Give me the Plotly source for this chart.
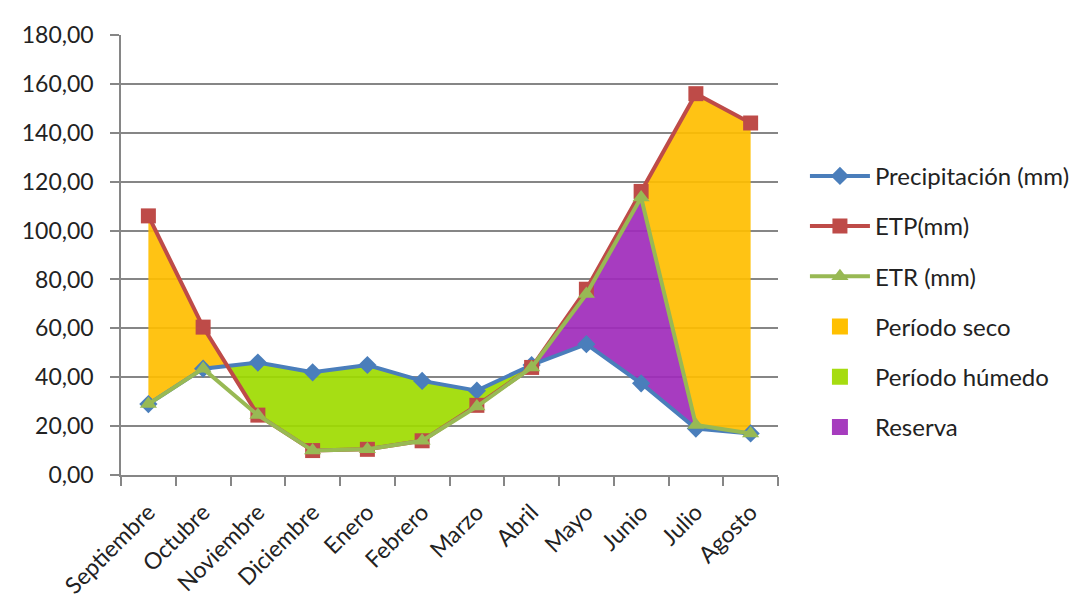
import plotly.graph_objects as go

meses = ["Septiembre", "Octubre", "Noviembre", "Diciembre", "Enero", "Febrero",
         "Marzo", "Abril", "Mayo", "Junio", "Julio", "Agosto"]
precipitacion = [29, 43.5, 46, 42, 45, 38.5, 34.5, 45, 53.5, 37.5, 19, 17]
etp = [106, 60.5, 24.5, 10, 10.5, 14, 28.5, 44, 76, 116, 156, 144]
etr = [29, 43.5, 24.5, 10, 10.5, 14, 28, 44, 74, 113.5, 20.5, 17]
y_ticks = [0, 20, 40, 60, 80, 100, 120, 140, 160, 180]

x = list(range(len(meses)))

# crossing of ETP and precipitation between Octubre (1) and Noviembre (2)
d1 = etp[1] - precipitacion[1]
d2 = etp[2] - precipitacion[2]
t = d1 / (d1 - d2)
cx = 1 + t
cy = etp[1] + t * (etp[2] - etp[1])

FONT = "Lato"
C_SECO = "rgba(255,190,0,0.92)"
C_HUM = "rgba(158,219,0,0.92)"
C_RES = "rgba(160,43,187,0.92)"

fig = go.Figure()

# Período seco (1): Sept - crossing
fig.add_trace(go.Scatter(
    x=[0, 1, cx, 1, 0], y=[etp[0], etp[1], cy, etr[1], etr[0]],
    fill="toself", fillcolor=C_SECO, mode="lines", line=dict(width=0),
    showlegend=False, hoverinfo="skip"))
# Período seco (2): Junio - Agosto
fig.add_trace(go.Scatter(
    x=[9, 10, 11, 11, 10, 9], y=[etp[9], etp[10], etp[11], etr[11], etr[10], etr[9]],
    fill="toself", fillcolor=C_SECO, mode="lines", line=dict(width=0),
    showlegend=False, hoverinfo="skip"))
# Período húmedo: crossing - Abril
hx = [cx] + x[2:8] + x[7:1:-1]
hy = [cy] + precipitacion[2:8] + etr[7:1:-1]
fig.add_trace(go.Scatter(
    x=hx, y=hy, fill="toself", fillcolor=C_HUM, mode="lines", line=dict(width=0),
    showlegend=False, hoverinfo="skip"))
# Reserva: Abril - Julio
rx = x[7:11] + x[10:6:-1]
ry = etr[7:11] + precipitacion[10:6:-1]
fig.add_trace(go.Scatter(
    x=rx, y=ry, fill="toself", fillcolor=C_RES, mode="lines", line=dict(width=0),
    showlegend=False, hoverinfo="skip"))

# lines
fig.add_trace(go.Scatter(
    x=x, y=precipitacion, name="Precipitación (mm)", mode="lines+markers",
    line=dict(color="#4A7EBB", width=4),
    marker=dict(symbol="diamond", size=14, color="#4A7EBB"), legendrank=1))
fig.add_trace(go.Scatter(
    x=x, y=etp, name="ETP(mm)", mode="lines+markers",
    line=dict(color="#BE4B48", width=4),
    marker=dict(symbol="square", size=15, color="#BE4B48"), legendrank=2))
fig.add_trace(go.Scatter(
    x=x, y=etr, name="ETR (mm)", mode="lines+markers",
    line=dict(color="#98B954", width=4),
    marker=dict(symbol="triangle-up", size=15, color="#98B954"), legendrank=3))

# legend entries for the areas
for i, (nm, col) in enumerate([("Período seco", "#FFC000"),
                                ("Período húmedo", "#A6DC10"),
                                ("Reserva", "#A63CBE")]):
    fig.add_trace(go.Scatter(
        x=[None], y=[None], name=nm, mode="markers",
        marker=dict(symbol="square", size=32, color=col), legendrank=4 + i))

for i, tr in enumerate(fig.data):
    tr.legendgroup = "g%d" % i

fig.update_layout(
    width=1080, height=601,
    margin=dict(l=113, r=310, t=27, b=134),
    paper_bgcolor="white", plot_bgcolor="white",
    separators=",.",
    font=dict(family=FONT, size=22, color="#222222"),
    showlegend=True,
    legend=dict(x=1.041, y=0.73, xanchor="left", yanchor="top",
                font=dict(family=FONT, size=24, color="#222222"),
                tracegroupgap=16, itemwidth=60, bgcolor="rgba(0,0,0,0)"),
    xaxis=dict(range=[-0.5, 11.5], tickmode="array", tickvals=x, ticktext=meses,
               tickangle=-45, ticks="", showgrid=False, zeroline=False,
               showline=True, linecolor="#868686", linewidth=1.5,
               ticklabelstandoff=13, automargin=False,
               tickfont=dict(family=FONT, size=23, color="#222222"),
               minor=dict(tickmode="linear", tick0=-0.5, dtick=1, ticks="outside",
                          ticklen=9, tickcolor="#868686", tickwidth=1.5, showgrid=False)),
    yaxis=dict(range=[0, 180], tickmode="array", tickvals=y_ticks, tickformat=".2f",
               ticks="outside", ticklen=9, tickcolor="#868686", tickwidth=1.5,
               showgrid=True, gridcolor="#868686", gridwidth=1.5, zeroline=False,
               showline=True, linecolor="#868686", linewidth=1.5,
               ticklabelstandoff=12, automargin=False,
               tickfont=dict(family=FONT, size=23, color="#222222")),
)

fig.write_html("out.html")
